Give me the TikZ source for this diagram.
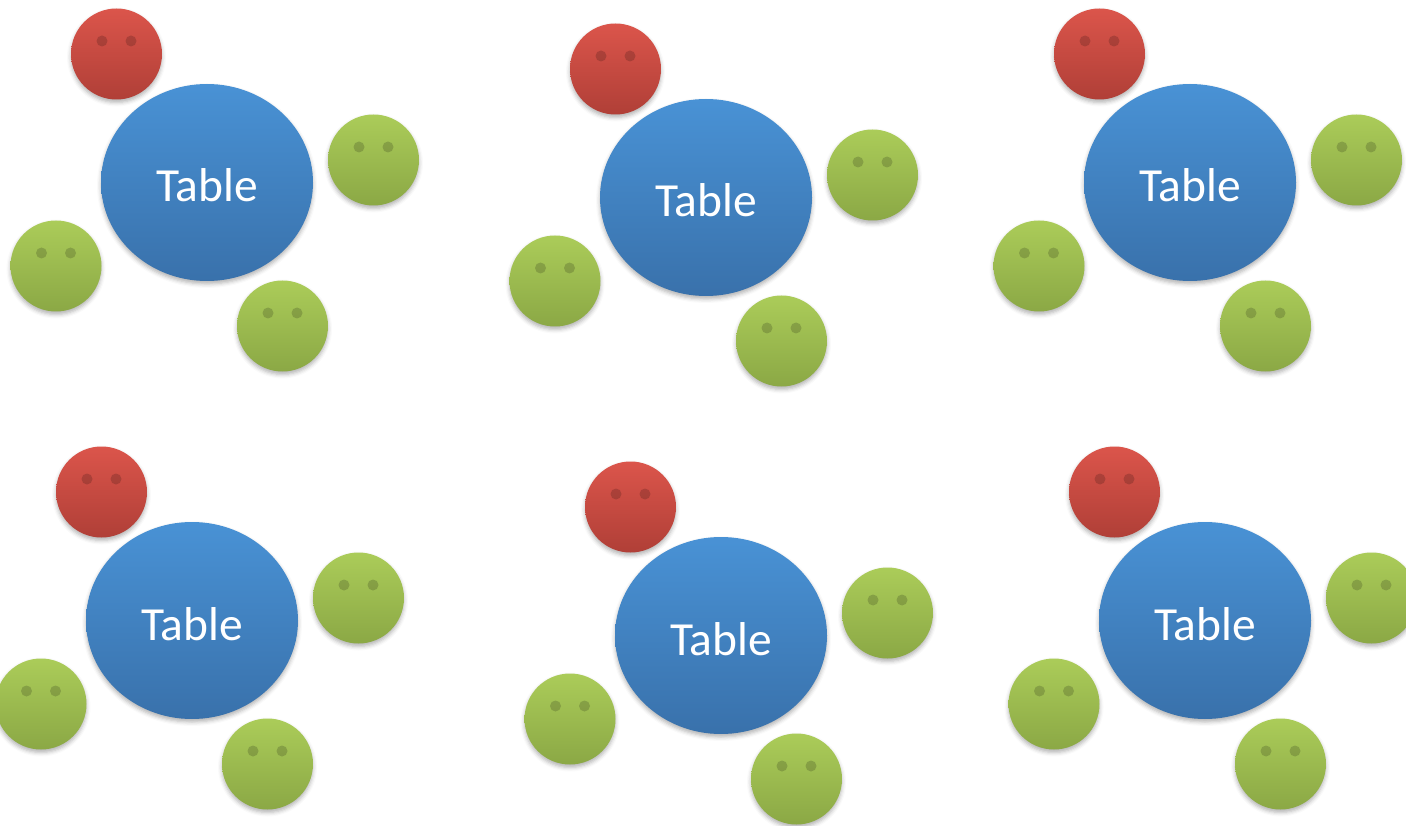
\documentclass[tikz,border=0pt]{standalone}
\usepackage{fontspec}
\setmainfont{Carlito}
\usetikzlibrary{shapes.geometric,shadows.blur}
\definecolor{redtop}{RGB}{219,85,75}
\definecolor{redbot}{RGB}{176,63,55}
\definecolor{grntop}{RGB}{171,204,89}
\definecolor{grnbot}{RGB}{139,168,69}
\definecolor{blutop}{RGB}{73,146,213}
\definecolor{blubot}{RGB}{57,113,171}
\tikzset{
  shad/.style={blur shadow={shadow xshift=0pt, shadow yshift=-3pt, shadow blur radius=4pt, shadow opacity=30}},
  person/.style={circle, minimum size=91pt, inner sep=0pt, shad},
  redp/.style={person, top color=redtop, bottom color=redbot},
  grnp/.style={person, top color=grntop, bottom color=grnbot},
  tablebox/.style={ellipse, minimum width=212pt, minimum height=197pt, inner sep=0pt, top color=blutop, bottom color=blubot, shad},
  tabletext/.style={anchor=base, text=white, font=\fontsize{47.5}{52}\selectfont, inner sep=0pt},
  eye/.style={circle, minimum size=11pt, inner sep=0pt, fill=black, fill opacity=0.17}
}
\begin{document}
\begin{tikzpicture}[x=1pt,y=-1pt]
\useasboundingbox (0,0) rectangle (1406,826);
\clip (0,0) rectangle (1406,826);
\foreach \gx/\gy/\g in {0/0/a, 499/15/b, 983/0/c, -15/438/d, 514/453/e, 998/438/f} {
  \begin{scope}[shift={(\gx,\gy)}]
    \node[tablebox] (\g-t) at (207,182.5) {};
    \node[tabletext] (\g-lbl) at (207,202) {Table};
    \node[redp] (\g-r) at (116.5,54) {};
    \node[grnp] (\g-g1) at (373.5,160) {};
    \node[grnp] (\g-g2) at (56,266) {};
    \node[grnp] (\g-g3) at (282.5,326) {};
    \foreach \p in {r,g1,g2,g3} {
      \node[eye] (\g-\p-e1) at ([shift={(-14.5pt,13pt)}]\g-\p.center) {};
      \node[eye] (\g-\p-e2) at ([shift={(14.5pt,13pt)}]\g-\p.center) {};
    }
  \end{scope}
}
\end{tikzpicture}
\end{document}
